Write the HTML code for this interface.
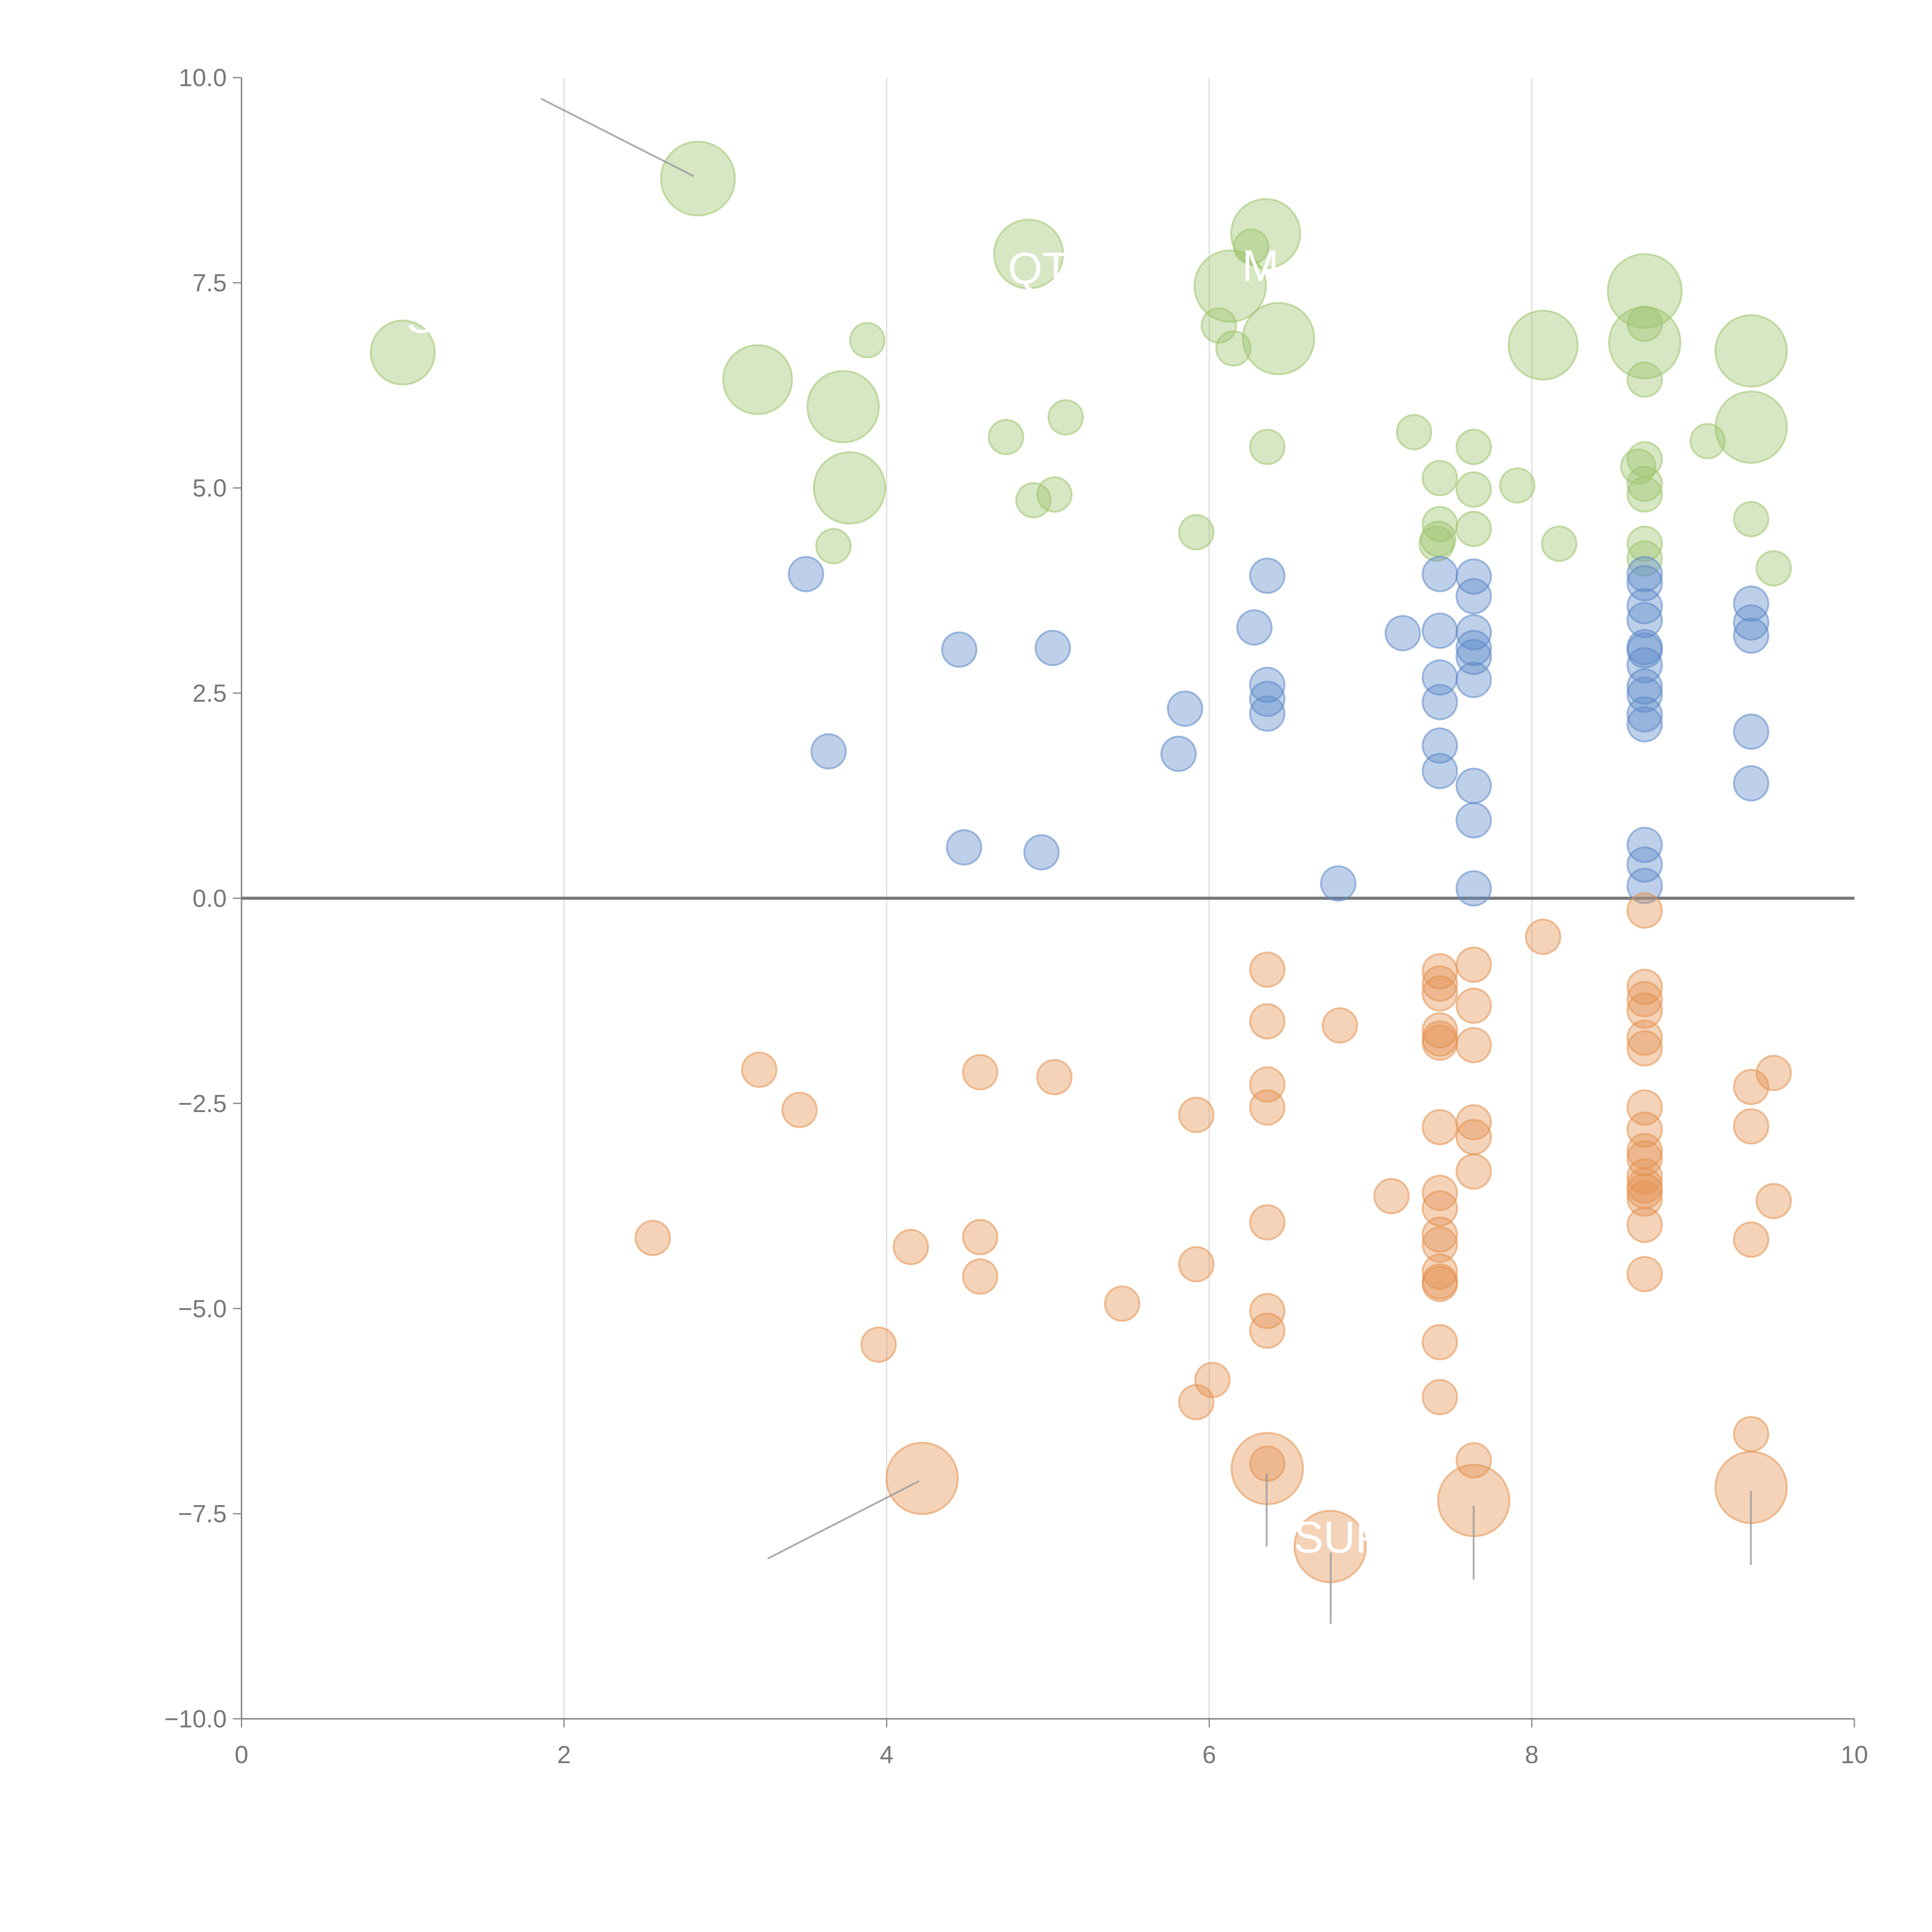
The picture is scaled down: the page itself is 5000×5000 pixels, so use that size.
<!DOCTYPE html>
<html><head><meta charset="utf-8"><style>
html,body{margin:0;padding:0;background:#fff}
svg{display:block}
text{font-family:"Liberation Sans",sans-serif}
</style></head><body>
<svg id="chart" width="5000" height="5000" viewBox="0 0 1568 1568" xmlns="http://www.w3.org/2000/svg">
<g id="grid"></g>
<g id="axes"></g>
<g id="marks"></g>
<g id="ann"></g>
</svg>
<script>
const xTicks=[0,2,4,6,8,10];
const yTicks=[10,7.5,5,2.5,0,-2.5,-5,-7.5,-10];
const yTickLabels=["10.0","7.5","5.0","2.5","0.0","\u22122.5","\u22125.0","\u22127.5","\u221210.0"];
const greenX=[2.83,1.0,3.2,3.73,3.77,4.88,6.35,6.13,6.43,8.07,8.7,8.7,9.36,9.36,
3.88,3.67,4.74,5.11,4.91,5.04,5.92,6.06,6.15,6.26,6.36,7.27,7.43,7.43,7.42,7.41,7.64,7.64,7.64,7.91,8.17,8.7,8.7,8.7,8.66,8.7,8.7,8.7,8.7,9.09,9.36,9.5];
const greenY=[8.77,6.65,6.32,5.99,5.0,7.85,8.1,7.46,6.82,6.74,7.4,6.77,6.67,5.74,
6.8,4.29,5.62,5.86,4.85,4.92,4.46,6.98,6.7,7.94,5.5,5.68,5.12,4.56,4.38,4.32,5.5,4.98,4.5,5.03,4.32,7.0,6.32,5.35,5.26,5.05,4.92,4.32,4.14,5.57,4.62,4.02];
const greenSize=[30,26,28,29,29,28,28,29,29,28,30,29,29,29,
14,14,14,14,14,14,14,14,14,14,14,14,14,14,14,14,14,14,14,14,14,14,14,14,14,14,14,14,14,14,14,14];
const blueX=[3.5,3.64,4.45,4.48,4.96,5.03,5.81,5.85,6.28,6.36,6.36,6.36,6.36,6.8,7.2,7.43,7.43,7.43,7.43,7.43,7.43,7.64,7.64,7.64,7.64,7.64,7.64,7.64,7.64,7.64,
8.7,8.7,8.7,8.7,8.7,8.7,8.7,8.7,8.7,8.7,8.7,8.7,8.7,8.7,9.36,9.36,9.36,9.36,9.36];
const blueY=[3.95,1.79,3.03,0.62,0.56,3.05,1.76,2.31,3.3,3.93,2.6,2.43,2.25,0.18,3.23,3.95,3.26,2.69,2.39,1.86,1.55,3.92,3.68,3.24,3.05,2.94,2.66,1.37,0.95,0.12,
3.95,3.84,3.56,3.39,3.06,3.02,2.84,2.58,2.48,2.24,2.12,0.65,0.41,0.15,3.59,3.36,3.2,2.03,1.4];
const orangeX=[3.21,3.46,2.55,3.95,4.15,4.58,4.58,4.58,5.04,5.46,5.92,5.92,6.02,5.92,6.36,6.36,6.36,6.36,6.36,6.36,6.36,6.36,6.81,7.13,
7.43,7.43,7.43,7.43,7.43,7.43,7.43,7.43,7.43,7.43,7.43,7.43,7.43,7.43,7.43,7.43,7.64,7.64,7.64,7.64,7.64,7.64,7.64,8.07,
8.7,8.7,8.7,8.7,8.7,8.7,8.7,8.7,8.7,8.7,8.7,8.7,8.7,8.7,8.7,8.7,9.36,9.36,9.36,9.36,9.5,9.5,
4.22,6.36,6.75,7.64,9.36];
const orangeY=[-2.09,-2.58,-4.14,-5.44,-4.25,-2.12,-4.13,-4.61,-2.18,-4.94,-2.64,-4.46,-5.87,-6.14,-0.87,-1.5,-2.27,-2.55,-3.95,-5.03,-5.27,-6.89,-1.55,-3.63,
-0.89,-1.04,-1.16,-1.61,-1.71,-1.76,-2.79,-3.59,-3.78,-4.1,-4.22,-4.55,-4.67,-4.7,-5.41,-6.08,-0.81,-1.31,-1.79,-2.73,-2.91,-3.33,-6.85,-0.47,
-0.15,-1.08,-1.23,-1.37,-1.7,-1.83,-2.55,-2.82,-3.08,-3.17,-3.39,-3.5,-3.57,-3.66,-3.98,-4.58,-2.3,-2.78,-4.16,-6.53,-2.13,-3.69,
-7.07,-6.95,-7.9,-7.34,-7.18];
const orangeSize=[];for(let i=0;i<orangeX.length;i++)orangeSize.push(i>=orangeX.length-5?29:14);
const NS="http://www.w3.org/2000/svg";
const X=v=>196+v*130.9, Y=v=>729-v*66.6;
function mk(tag,parent,attrs){const e=document.createElementNS(NS,tag);for(const k in attrs)e.setAttribute(k,attrs[k]);parent.appendChild(e);return e;}
const grid=document.getElementById('grid'),axes=document.getElementById('axes'),marks=document.getElementById('marks'),ann=document.getElementById('ann');
xTicks.forEach(t=>{if(t>0&&t<10){const l=mk('line',grid,{x1:X(t),x2:X(t),y1:Y(10),y2:Y(-10),stroke:'#dddddd','stroke-width':1});

}});
let a=mk('line',axes,{x1:X(0),x2:X(0),y1:Y(10),y2:Y(-10),stroke:'#888','stroke-width':1.2});


a=mk('line',axes,{x1:X(0),x2:X(10),y1:Y(-10),y2:Y(-10),stroke:'#888','stroke-width':1.2});


xTicks.forEach(t=>{mk('line',axes,{x1:X(t),x2:X(t),y1:Y(-10),y2:Y(-10)+7,stroke:'#888'});
const tx=mk('text',axes,{x:X(t),y:Y(-10)+36,'text-anchor':'middle','font-size':20,fill:'#777'});tx.textContent=t;

});
yTicks.forEach((t,i)=>{mk('line',axes,{x1:X(0)-7,x2:X(0),y1:Y(t),y2:Y(t),stroke:'#888'});
const tx=mk('text',axes,{x:X(0)-12,y:Y(t)+7,'text-anchor':'end','font-size':20,fill:'#777'});tx.textContent=yTickLabels[i];

});
function series(xs,ys,sz,fill,stroke,name){xs.forEach((x,i)=>{const c=mk('circle',marks,{cx:X(x),cy:Y(ys[i]),r:sz[i],fill:fill,'fill-opacity':0.4,stroke:stroke,'stroke-opacity':0.55,'stroke-width':1.5});

});}
series(greenX,greenY,greenSize,'#9cc46c','#9cc46c','green-bubble');
series(blueX,blueY,blueX.map(()=>14),'#5d89c8','#5d89c8','blue-bubble');
series(orangeX,orangeY,orangeSize,'#e3914f','#e3914f','orange-bubble');
const zl=mk('line',axes,{x1:X(0),x2:X(10),y1:Y(0),y2:Y(0),stroke:'#777','stroke-width':2.5});


[[439,80,563,143],[623,1265,746,1202],[1028,1196,1028,1255],[1080,1260,1080,1318],[1196,1222,1196,1282],[1421,1210,1421,1270]].forEach(p=>{
const l=mk('line',ann,{x1:p[0],y1:p[1],x2:p[2],y2:p[3],stroke:'#999','stroke-width':1.5,'stroke-opacity':0.8});

});
[["QT",818,230],["M",1008,228],["S",330,270],["SUP",1050,1260]].forEach(t=>{const tx=mk('text',ann,{x:t[1],y:t[2],'font-size':36,fill:'#fff'});tx.textContent=t[0];

});
</script>
</body></html>
